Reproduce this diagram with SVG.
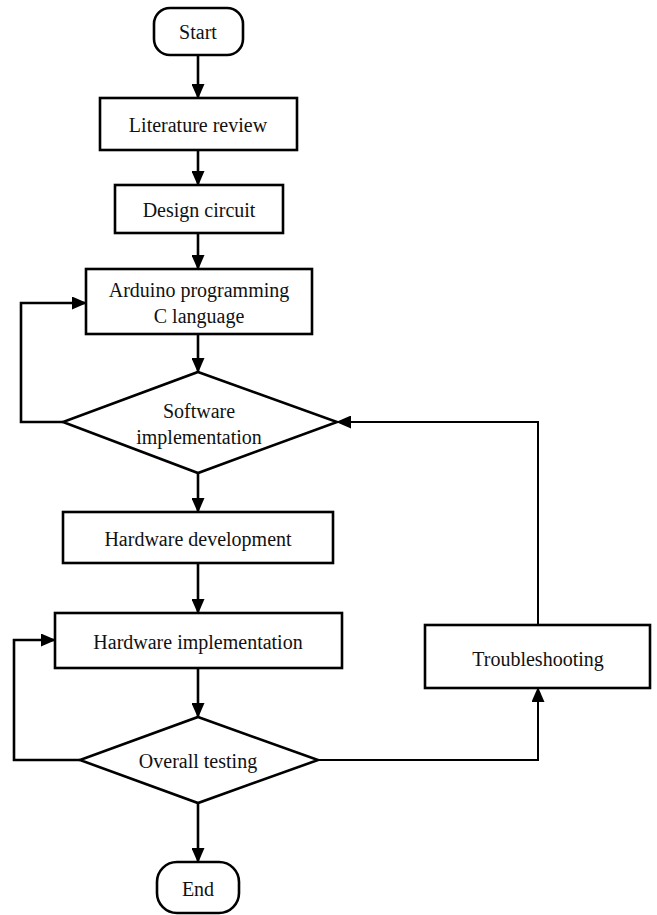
<svg xmlns="http://www.w3.org/2000/svg" width="657" height="915" viewBox="0 0 657 915">
<defs>
<marker id="ah" markerUnits="userSpaceOnUse" markerWidth="15" markerHeight="13" refX="14" refY="6.5" orient="auto">
<path d="M0,0 L15,6.5 L0,13 Z" fill="#000"/>
</marker>
<style>
.n{fill:#fff;stroke:#000;stroke-width:2.6}
.t{font-family:"Liberation Serif","Times New Roman",serif;font-size:20px;fill:#111;text-anchor:middle;dominant-baseline:central}
.c{fill:none;stroke:#000;stroke-width:2.6;marker-end:url(#ah)}
.c2{fill:none;stroke:#000;stroke-width:2;marker-end:url(#ah)}
</style>
</defs>
<rect width="657" height="915" fill="#fff"/>
<g id="connectors">
<path class="c" d="M198,55 V98"/>
<path class="c" d="M198,150 V185"/>
<path class="c" d="M198,233 V269"/>
<path class="c" d="M198,334 V372"/>
<path class="c" d="M63,422 H21 V303 H86"/>
<path class="c" d="M198,473 V512"/>
<path class="c" d="M198,563 V613"/>
<path class="c" d="M198,668 V717"/>
<path class="c" d="M80,760 H14 V640 H55"/>
<path class="c2" d="M318,760 H538 V688"/>
<path class="c2" d="M538,625 V422 H337"/>
<path class="c" d="M198,803 V862"/>
</g>
<g id="start">
<rect class="n" x="154" y="8" width="89" height="47" rx="16"/>
<text class="t" x="198" y="32">Start</text>
</g>
<g id="literature">
<rect class="n" x="100" y="98" width="197" height="52"/>
<text class="t" x="198" y="125">Literature review</text>
</g>
<g id="design">
<rect class="n" x="115" y="185" width="168" height="48"/>
<text class="t" x="199" y="210">Design circuit</text>
</g>
<g id="arduino">
<rect class="n" x="86" y="269" width="226" height="65"/>
<text class="t" x="199" y="290">Arduino programming</text>
<text class="t" x="199" y="316">C language</text>
</g>
<g id="software">
<polygon class="n" points="198,372 337,422 198,473 63,422"/>
<text class="t" x="199" y="411">Software</text>
<text class="t" x="199" y="437">implementation</text>
</g>
<g id="hwdev">
<rect class="n" x="63" y="512" width="270" height="51"/>
<text class="t" x="198" y="539">Hardware development</text>
</g>
<g id="hwimpl">
<rect class="n" x="55" y="613" width="287" height="55"/>
<text class="t" x="198" y="642">Hardware implementation</text>
</g>
<g id="overall">
<polygon class="n" points="198,717 318,760 198,803 80,760"/>
<text class="t" x="198" y="761">Overall testing</text>
</g>
<g id="troubleshooting">
<rect class="n" x="425" y="625" width="225" height="63"/>
<text class="t" x="538" y="659">Troubleshooting</text>
</g>
<g id="end">
<rect class="n" x="157" y="862" width="82" height="51" rx="20"/>
<text class="t" x="198" y="889">End</text>
</g>
</svg>
